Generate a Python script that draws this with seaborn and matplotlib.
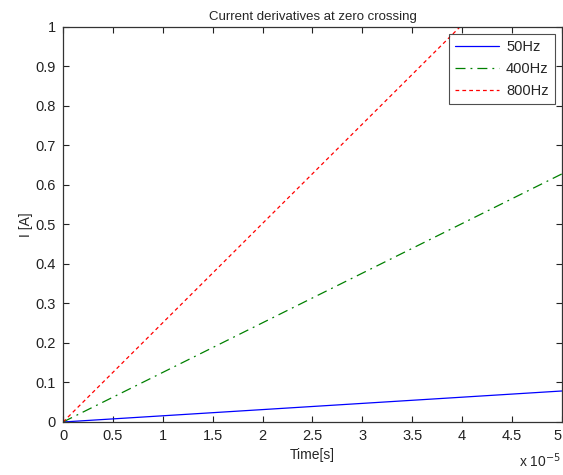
import matplotlib
matplotlib.use("Agg")
import matplotlib.pyplot as plt
import seaborn as sns
import pandas as pd

# Time in units of 1e-5 s
time_scaled = [0.0, 5.0]
i_50hz = [0.0, 0.0785]
i_400hz = [0.0, 0.628]
i_800hz = [0.0, 1.257]
series_labels = ["50Hz", "400Hz", "800Hz"]
x_ticks = [0, 0.5, 1, 1.5, 2, 2.5, 3, 3.5, 4, 4.5, 5]
x_tick_labels = ["0", "0.5", "1", "1.5", "2", "2.5", "3", "3.5", "4", "4.5", "5"]
y_ticks = [0, 0.1, 0.2, 0.3, 0.4, 0.5, 0.6, 0.7, 0.8, 0.9, 1]
y_tick_labels = ["0", "0.1", "0.2", "0.3", "0.4", "0.5", "0.6", "0.7", "0.8", "0.9", "1"]

sns.set_style("white")
plt.rcParams['font.family'] = ['Liberation Sans', 'DejaVu Sans']

fig = plt.figure(figsize=(5.63, 4.75), dpi=100)
ax = fig.add_axes([0.112, 0.1116, 0.886, 0.8316])

df = pd.DataFrame({
    "t": time_scaled * 3,
    "I": i_50hz + i_400hz + i_800hz,
    "series": [s for s in series_labels for _ in time_scaled],
})
colors = {"50Hz": "#0000ff", "400Hz": "#008000", "800Hz": "#ff0000"}
styles = {"50Hz": "-", "400Hz": (0, (8, 4, 1.5, 4)), "800Hz": (0, (3, 2.5))}
for s in series_labels:
    sub = df[df["series"] == s]
    sns.lineplot(data=sub, x="t", y="I", ax=ax, color=colors[s], linewidth=0.9,
                 linestyle=styles[s], label=s)

ax.set_xlim(0, 5)
ax.set_ylim(0, 1)
ax.set_xticks(x_ticks)
ax.set_xticklabels(x_tick_labels)
ax.set_yticks(y_ticks)
ax.set_yticklabels(y_tick_labels)
ax.tick_params(direction="in", length=4, width=0.8, labelsize=10.5, colors="#222222",
               top=True, right=True, bottom=True, left=True, pad=5)
ax.get_xticklabels()[-1].set_horizontalalignment("right")
for sp in ax.spines.values():
    sp.set_color("#333333")
    sp.set_linewidth(0.9)
    sp.set_visible(True)

ax.set_xlabel("Time[s]", fontsize=10, labelpad=4)
ax.set_ylabel("I [A]", fontsize=10, labelpad=2)
ax.set_title("Current derivatives at zero crossing", fontsize=9.5, pad=5)
fig.text(0.997, 0.01, r"x 10$^{-5}$", fontsize=10, ha="right", va="bottom")

leg = ax.legend(loc="upper right", fontsize=10.5, frameon=True, fancybox=False,
                edgecolor="#222222", handlelength=3.0, borderaxespad=0.5,
                labelspacing=0.55, borderpad=0.4, handletextpad=0.5)
leg.get_frame().set_linewidth(0.8)

fig.savefig("out.png", dpi=100)
